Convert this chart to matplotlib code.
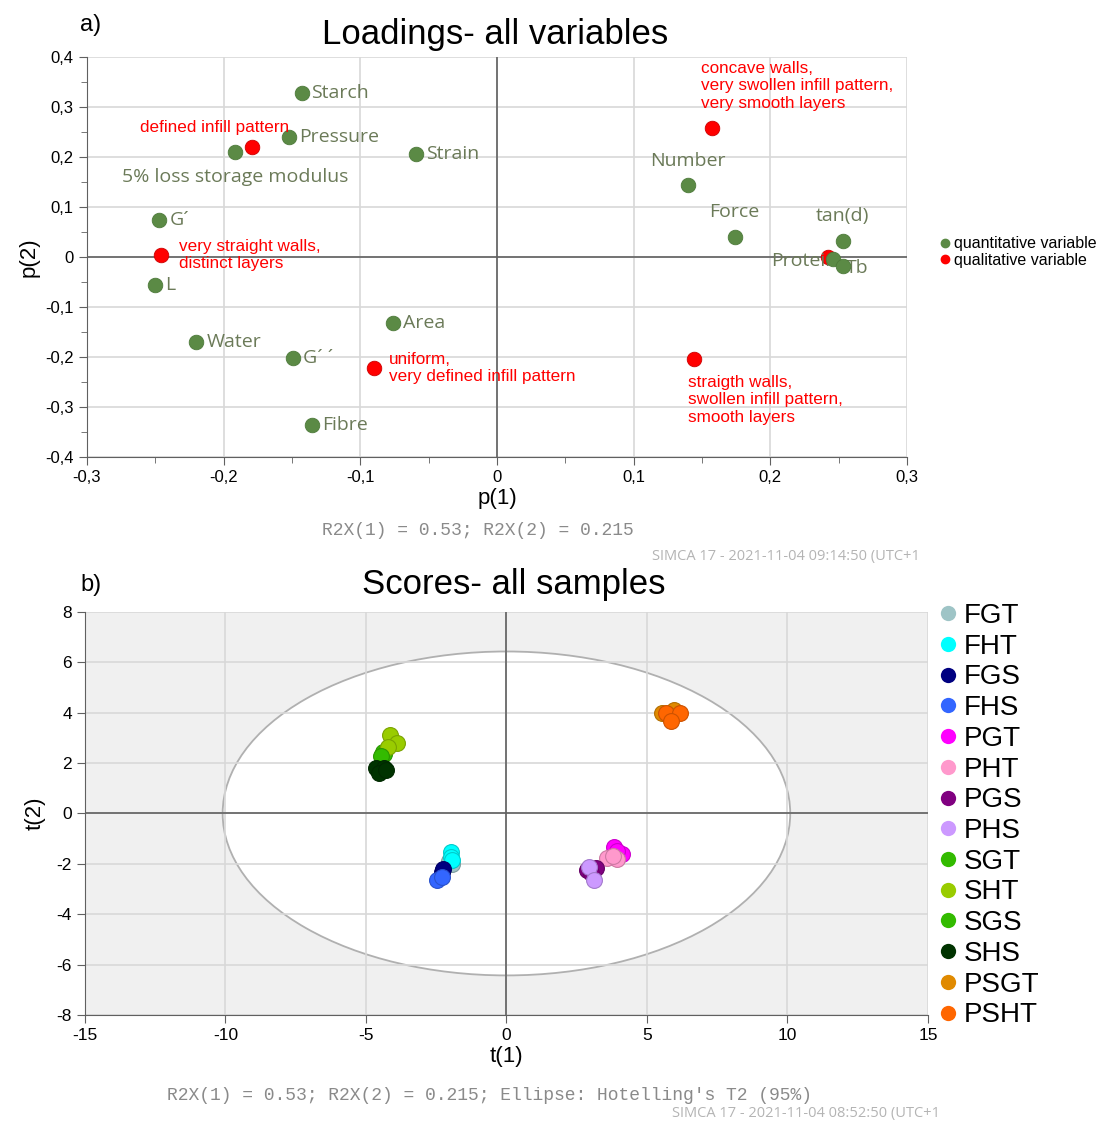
import numpy as np
import matplotlib
matplotlib.use("Agg")
import matplotlib.pyplot as plt
from matplotlib.patches import Ellipse
from matplotlib.lines import Line2D
from matplotlib.ticker import FuncFormatter, MultipleLocator
from matplotlib.colors import to_rgb

plt.rcParams['font.family'] = ['Liberation Sans', 'DejaVu Sans']
plt.rcParams['axes.unicode_minus'] = False

# ---- loadings (a) ----
quant_names = ['Starch', 'Pressure', '5% loss storage modulus', 'Strain', 'G´', 'L',
               'Water', 'G´ ´', 'Area', 'Fibre', 'Number', 'Force', 'tan(d)', 'Protein', 'Tb']
quant_p1 = [-0.143, -0.152, -0.192, -0.059, -0.247, -0.250,
            -0.220, -0.149, -0.076, -0.135, 0.140, 0.174, 0.253, 0.246, 0.253]
quant_p2 = [0.328, 0.240, 0.210, 0.206, 0.074, -0.056,
            -0.170, -0.202, -0.132, -0.336, 0.144, 0.040, 0.032, -0.004, -0.018]

qual_names = ['defined infill pattern',
              'very straight walls,\ndistinct layers',
              'uniform,\nvery defined infill pattern',
              'concave walls,\nvery swollen infill pattern,\nvery smooth layers',
              'straigth walls,\nswollen infill pattern,\nsmooth layers',
              '']
qual_p1 = [-0.179, -0.246, -0.090, 0.157, 0.144, 0.242]
qual_p2 = [0.220, 0.004, -0.222, 0.258, -0.204, 0.000]

# ---- scores (b) ----
groups = ['FGT', 'FHT', 'FGS', 'FHS', 'PGT', 'PHT', 'PGS', 'PHS',
          'SGT', 'SHT', 'SGS', 'SHS', 'PSGT', 'PSHT']
group_colors = ['#9ec4c6', '#00ffff', '#000080', '#3366ff', '#ff00ff', '#ff99cc', '#800080', '#cc99ff',
                '#33bb00', '#99cc00', '#33bb00', '#003300', '#e08a00', '#ff6600']
t1 = {
    'FGT': [-1.92, -2.04], 'FHT': [-1.96, -1.96, -1.94], 'FGS': [-2.31, -2.25], 'FHS': [-2.46, -2.30],
    'PGT': [3.84, 4.13, 3.95], 'PHT': [3.59, 3.95, 3.80], 'PGS': [2.88, 3.20, 3.00], 'PHS': [2.95, 3.13],
    'SGT': [-4.41, -4.35], 'SHT': [-4.16, -3.88, -4.23], 'SGS': [-4.45], 'SHS': [-4.63, -4.34, -4.52, -4.27],
    'PSGT': [5.52, 5.98, 5.70], 'PSHT': [5.69, 6.16, 5.87],
}
t2 = {
    'FGT': [-2.00, -1.90], 'FHT': [-1.55, -1.72, -1.85], 'FGS': [-2.34, -2.20], 'FHS': [-2.66, -2.52],
    'PGT': [-1.35, -1.59, -1.50], 'PHT': [-1.75, -1.79, -1.70], 'PGS': [-2.26, -2.18, -2.35], 'PHS': [-2.14, -2.66],
    'SGT': [2.42, 2.35], 'SHT': [3.10, 2.78, 2.62], 'SGS': [2.30], 'SHS': [1.79, 1.79, 1.59, 1.71],
    'PSGT': [4.00, 4.09, 3.95], 'PSHT': [3.97, 3.97, 3.69],
}
ellipse_t1 = 10.1
ellipse_t2 = 6.43

green = '#5b8a45'
label_col = '#6b7a58'
grid_col = '#d8d8d8'
axis_col = '#606060'

fig = plt.figure(figsize=(11.15, 11.22), dpi=100)

# ---------------- top plot ----------------
ax1 = fig.add_axes([0.078, 0.5927, 0.7354, 0.3565])
ax1.set_xlim(-0.3, 0.3)
ax1.set_ylim(-0.4, 0.4)
ax1.xaxis.set_major_locator(MultipleLocator(0.1))
ax1.xaxis.set_minor_locator(MultipleLocator(0.05))
ax1.yaxis.set_major_locator(MultipleLocator(0.1))
ax1.yaxis.set_minor_locator(MultipleLocator(0.05))
comma = FuncFormatter(lambda v, p: ('%.1f' % v).replace('.', ',').replace('-0,0', '0').replace('0,0', '0'))
ax1.xaxis.set_major_formatter(comma)
ax1.yaxis.set_major_formatter(comma)
ax1.grid(True, which='major', color=grid_col, lw=1.2)
ax1.axhline(0, color=axis_col, lw=1.2, zorder=1.6)
ax1.axvline(0, color=axis_col, lw=1.2, zorder=1.6)
for s in ['top', 'right']:
    ax1.spines[s].set_visible(False)
for s in ['left', 'bottom']:
    ax1.spines[s].set_color(axis_col)
ax1.tick_params(which='both', colors=axis_col, labelcolor='black', labelsize=12)
ax1.tick_params(which='major', length=6)
ax1.tick_params(which='minor', length=4)

ax1.scatter(quant_p1, quant_p2, s=110, color=green, edgecolors='#4d7a3a', lw=0.6, zorder=4)
ax1.scatter(qual_p1, qual_p2, s=110, color='#ff0000', edgecolors='#cc0000', lw=0.6, zorder=3)

q_offsets = {
    '5% loss storage modulus': (1, -25, 'center'), 'Number': (0, 24, 'center'),
    'Force': (0, 25, 'center'), 'tan(d)': (0, 25, 'center'), 'Protein': (4, -2, 'right'),
    'Tb': (3, -2, 'left'),
}
for n, x, y in zip(quant_names, quant_p1, quant_p2):
    dx, dy, ha = q_offsets.get(n, (10, 0, 'left'))
    ax1.annotate(n, (x, y), xytext=(dx, dy), textcoords='offset pixels', ha=ha, va='center',
                 fontsize=14, color=label_col, family=['Open Sans', 'DejaVu Sans'], zorder=3.5)

r_offsets = [(37, 19, 'right'), (18, 0, 'left'), (15, 0, 'left'), (-11, 42, 'left'), (-6, -41, 'left'), (0, 0, 'left')]
for n, x, y, (dx, dy, ha) in zip(qual_names, qual_p1, qual_p2, r_offsets):
    if n:
        ax1.annotate(n, (x, y), xytext=(dx, dy), textcoords='offset pixels', ha=ha, va='center',
                     fontsize=12.3, color='#ff0000', linespacing=1.18, zorder=5)

ax1.set_xlabel('p(1)', fontsize=16, labelpad=2)
ax1.set_ylabel('p(2)', fontsize=16, labelpad=4)

h1 = [Line2D([], [], ls='', marker='o', ms=6, color=green),
      Line2D([], [], ls='', marker='o', ms=6, color='#ff0000')]
fig.legend(h1, ['quantitative variable', 'qualitative variable'], loc='upper left',
           bbox_to_anchor=(0.835, 0.795), frameon=False, fontsize=11.5, handletextpad=0.05,
           handlelength=1.0, labelspacing=0.1, borderaxespad=0)

# ---------------- bottom plot ----------------
ax2 = fig.add_axes([0.0762, 0.0954, 0.756, 0.3592])
ax2.set_facecolor('#f0f0f0')
ax2.set_xlim(-15, 15)
ax2.set_ylim(-8, 8)
ax2.xaxis.set_major_locator(MultipleLocator(5))
ax2.yaxis.set_major_locator(MultipleLocator(2))
ax2.grid(True, color=grid_col, lw=1.2)
ax2.add_patch(Ellipse((0, 0), 2 * ellipse_t1, 2 * ellipse_t2, facecolor='white',
                      edgecolor='#b0b0b0', lw=1.3, zorder=1))
ax2.axhline(0, color=axis_col, lw=1.2, zorder=1.6)
ax2.axvline(0, color=axis_col, lw=1.2, zorder=1.6)
for s in ['top', 'right']:
    ax2.spines[s].set_visible(False)
for s in ['left', 'bottom']:
    ax2.spines[s].set_color(axis_col)
ax2.tick_params(colors=axis_col, labelcolor='black', labelsize=12.5, length=6)

h2 = []
for g, c in zip(groups, group_colors):
    edge = tuple(v * 0.8 for v in to_rgb(c))
    ax2.scatter(t1[g], t2[g], s=130, color=c, edgecolors=[edge], lw=0.8, zorder=3)
    h2.append(Line2D([], [], ls='', marker='o', ms=11, color=c, mec='none'))

ax2.set_xlabel('t(1)', fontsize=16, labelpad=2)
ax2.set_ylabel('t(2)', fontsize=16, labelpad=8)

fig.legend(h2, groups, loc='upper left', bbox_to_anchor=(0.827, 0.4725),
           frameon=False, fontsize=20, handletextpad=0.0, handlelength=1.1,
           labelspacing=0.17, borderaxespad=0)

# ---------------- texts ----------------
fig.text(0.072, 0.978, 'a)', fontsize=17, va='center')
fig.text(0.444, 0.969, 'Loadings- all variables', fontsize=25, ha='center', va='center')
fig.text(0.072, 0.479, 'b)', fontsize=17, va='center')
fig.text(0.461, 0.479, 'Scores- all samples', fontsize=25, ha='center', va='center')

mono = ['Liberation Mono', 'DejaVu Sans Mono']
fig.text(0.429, 0.527, 'R2X(1) = 0.53; R2X(2) = 0.215', fontsize=13, ha='center', va='center',
         color='#8a8a8a', family=mono)
fig.text(0.825, 0.504, 'SIMCA 17 - 2021-11-04 09:14:50 (UTC+1', fontsize=10.5, ha='right', va='center',
         color='#b4b4b4', family=['Open Sans', 'DejaVu Sans'])
fig.text(0.439, 0.0232, "R2X(1) = 0.53; R2X(2) = 0.215; Ellipse: Hotelling's T2 (95%)", fontsize=13,
         ha='center', va='center', color='#8a8a8a', family=mono)
fig.text(0.843, 0.008, 'SIMCA 17 - 2021-11-04 08:52:50 (UTC+1', fontsize=10.5, ha='right', va='center',
         color='#b4b4b4', family=['Open Sans', 'DejaVu Sans'])

fig.savefig('out.png', dpi=100)
